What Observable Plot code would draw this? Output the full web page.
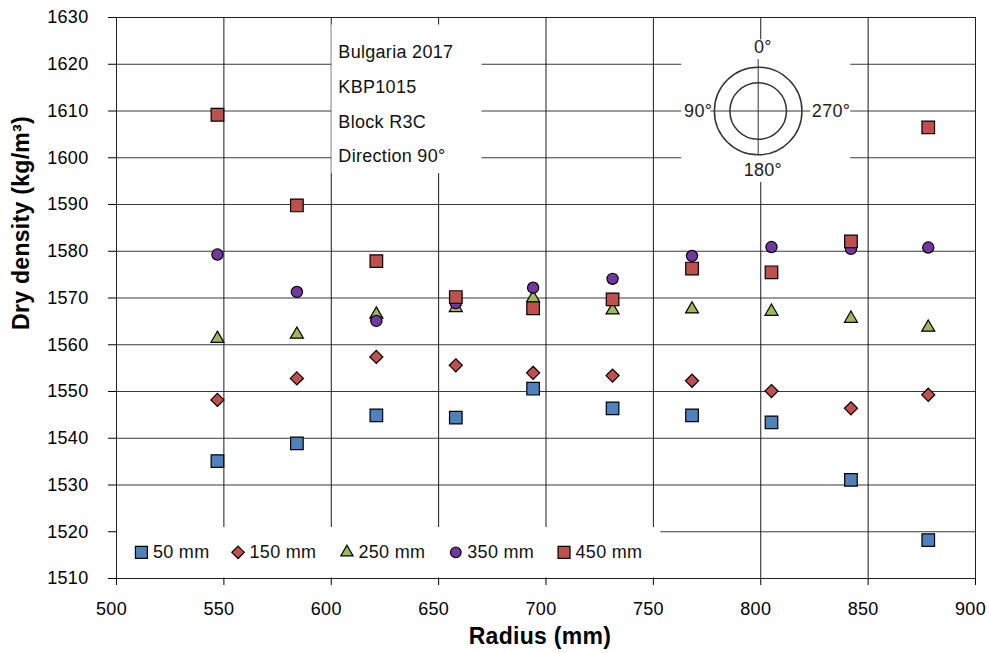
<!DOCTYPE html>
<html>
<head>
<meta charset="utf-8">
<script src="https://cdn.jsdelivr.net/npm/d3@7"></script>
<script src="https://cdn.jsdelivr.net/npm/@observablehq/plot@0.6"></script>
<style>
  html, body { margin: 0; padding: 0; background: #fff; }
  svg text { letter-spacing: 0.3px; }
</style>
</head>
<body>
<div id="chart"></div>
<script>
// ---- data ----
const radius = [547, 584, 621, 658, 694, 731, 768, 805, 842, 878];
const d50  = [1535.1, 1538.9, 1544.9, 1544.4, 1550.6, 1546.4, 1544.9, 1543.4, 1531.1, 1518.2];
const d150 = [1548.2, 1552.8, 1557.4, 1555.6, 1554.0, 1553.4, 1552.3, 1550.1, 1546.4, 1549.3];
const d250 = [1561.3, 1562.2, 1566.5, 1567.9, 1570.0, 1567.4, 1567.6, 1567.1, 1565.6, 1563.7];
const d350 = [1579.3, 1571.3, 1565.1, 1568.9, 1572.2, 1574.1, 1579.0, 1580.9, 1580.5, 1580.8];
const d450 = [1609.2, 1589.8, 1577.9, 1570.2, 1567.8, 1569.7, 1576.3, 1575.5, 1582.1, 1606.5];

const seriesNames = ["50 mm", "150 mm", "250 mm", "350 mm", "450 mm"];
const seriesValues = [d50, d150, d250, d350, d450];
const seriesColors = ["#4F81BD", "#C0504D", "#9BBB59", "#7038A0", "#C0504D"];
const seriesSymbols = ["square", "diamond2", "triangle2", "circle", "square"];
const seriesR = [7.1, 5.9, 6.2, 5.6, 7.1];

const xTicks = [500, 550, 600, 650, 700, 750, 800, 850, 900];
const yTicks = [1510, 1520, 1530, 1540, 1550, 1560, 1570, 1580, 1590, 1600, 1610, 1620, 1630];

const infoLines = ["Bulgaria 2017", "KBP1015", "Block R3C", "Direction 90°"];
const infoY = [1622.6, 1615.0, 1607.6, 1600.3];
const compassLabels = ["0°", "180°", "90°", "270°"];

// ---- table ----
const points = [];
seriesValues.forEach((vals, s) => vals.forEach((v, i) => points.push({series: s, x: radius[i], y: v})));

// white boxes (data coordinates)
const boxes = [
  {x1: 600.3, x2: 670.2, y1: 1596.6, y2: 1628.4},
  {x1: 763.2, x2: 841.9, y1: 1594.7, y2: 1625.2},
  {x1: 500.2, x2: 753.5, y1: 1510.1, y2: 1520.9}
];
const compass = {cx: 798.8, cy: 1610};
const legendX = [511.6, 556.6, 607.3, 658.0, 708.4];
const legendY = 1515.6;

const fontFamily = "'Liberation Sans', Arial, Helvetica, sans-serif";

const marks = [
  Plot.gridY(yTicks, {stroke: "#3a3a3a", strokeOpacity: 1}),
  Plot.gridX(xTicks, {stroke: "#1a1a1a", strokeOpacity: 1}),
  Plot.rect(boxes, {x1: "x1", x2: "x2", y1: "y1", y2: "y2", fill: "white"}),
  // annotation text
  Plot.text(infoLines, {x: () => 603.3, y: (d, i) => infoY[i], text: d => d, textAnchor: "start", fontSize: 18, fill: "#111"}),
  // compass
  Plot.ruleX([compass.cx], {y1: 1621, y2: 1600.7, stroke: "#333"}),
  Plot.ruleY([compass.cy], {x1: 776.8, x2: 823.3, stroke: "#333"}),
  Plot.dot([compass], {x: "cx", y: "cy", r: 43.8, fill: "none", stroke: "#333"}),
  Plot.dot([compass], {x: "cx", y: "cy", r: 28.3, fill: "none", stroke: "#333"}),
  Plot.text([compassLabels[0]], {x: [801], y: [1623.6], text: d => d, fontSize: 18, fill: "#222"}),
  Plot.text([compassLabels[1]], {x: [801], y: [1597.3], text: d => d, fontSize: 18, fill: "#222"}),
  Plot.text([compassLabels[2]], {x: [777.4], y: [1610], text: d => d, textAnchor: "end", fontSize: 18, fill: "#222"}),
  Plot.text([compassLabels[3]], {x: [823.8], y: [1610], text: d => d, textAnchor: "start", fontSize: 18, fill: "#222"}),
  // frame
  Plot.frame({stroke: "#222"}),
  // axes
  Plot.axisX({ticks: xTicks, tickSize: 7, tickPadding: 16.5, fontSize: 18, label: null, tickFormat: d => String(d)}),
  Plot.axisY({ticks: yTicks, tickSize: 8, tickPadding: 20, fontSize: 18, label: null, tickFormat: d => String(d)}),
  // axis titles
  Plot.text(["Radius (mm)"], {frameAnchor: "bottom", dx: -6, dy: 58, lineAnchor: "middle", textAnchor: "middle", fontWeight: "bold", fontSize: 23, text: d => d, fill: "#000"}),
  Plot.text(["Dry density (kg/m³)"], {frameAnchor: "left", dx: -95, dy: -75, rotate: -90, lineAnchor: "middle", textAnchor: "middle", fontWeight: "bold", fontSize: 23, text: d => d, fill: "#000"})
];

// data points
seriesValues.forEach((vals, s) => {
  marks.push(Plot.dot(points.filter(p => p.series === s), {
    x: "x", y: "y", symbol: () => seriesSymbols[s], r: seriesR[s],
    fill: seriesColors[s], stroke: "#000", strokeWidth: 1.2
  }));
});

// legend (inside plot, bottom-left)
seriesNames.forEach((name, s) => {
  marks.push(Plot.dot([name], {x: [legendX[s]], y: [legendY], symbol: () => seriesSymbols[s], r: seriesR[s] * 0.95,
    fill: seriesColors[s], stroke: "#000", strokeWidth: 1.2}));
  marks.push(Plot.text([name], {x: [legendX[s]], y: [legendY], dx: 11.5, text: d => d, textAnchor: "start", fontSize: 18, fill: "#111"}));
});

const chart = Plot.plot({
  width: 989,
  height: 653,
  marginLeft: 116,
  marginRight: 14,
  marginTop: 17,
  marginBottom: 75,
  x: {domain: [500, 900]},
  y: {domain: [1510, 1630]},
  symbol: {type: "identity"},
  style: {fontFamily, fontSize: "18px", background: "white", color: "#000"},
  marks
});
// Excel-style offset of the x tick labels (about 5px left of each tick)
chart.querySelectorAll("g[aria-label='x-axis tick label'] text").forEach(t => {
  const tr = t.getAttribute("transform") || "";
  t.setAttribute("transform", tr + " translate(-5,0)");
});
document.getElementById("chart").appendChild(chart);
</script>
</body>
</html>
